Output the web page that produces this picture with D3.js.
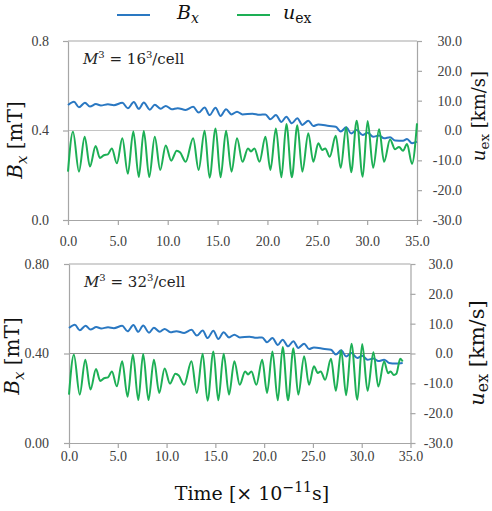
<html>
<script src="https://cdn.jsdelivr.net/npm/d3@7"></script>
<style>
body {margin:0; background:#fff;}
text {font-family:'DejaVu Serif',serif;}
.axis path, .axis line {stroke:#a6a6a6; stroke-width:1.2;}
</style>
<body>
<svg width=492 height=511></svg>
<script>
// values: [time (1e-11 s), value]
const xTicks = [0, 5, 10, 15, 20, 25, 30, 35];
const bxTicks = [0, 0.4, 0.8];
const uTicks = [-30, -20, -10, 0, 10, 20, 30];

// u_ex extrema (km/s), shared by both panels up to t = 31.2
const uCommon = [[0,-13.8],[0.5,-0.4],[1.1,-13.8],[1.67,-2.1],[2.2,-12.1],[2.77,-5.2],[3.2,-9.2],[3.6,-8.3],[4.0,-8.0],[4.4,-6.0],[4.9,-11.0],[5.45,-2.6],[6.0,-14.5],[6.55,-0.3],[7.1,-15.6],[7.6,-0.2],[8.15,-15.6],[8.7,-2.1],[9.25,-13.2],[9.8,-5.0],[10.35,-10.1],[10.9,-6.8],[11.25,-7.4],[11.8,-10.5],[12.55,-2.6],[13.1,-13.2],[13.7,-0.1],[14.2,-15.8],[14.8,0.7],[15.3,-15.7],[15.85,-0.1],[16.4,-13.8],[16.95,-2.6],[17.5,-10.5],[18.05,-6.0],[18.35,-7.0],[18.7,-6.0],[19.2,-10.5],[19.8,-2.1],[20.3,-13.2],[20.85,0.7],[21.4,-15.7],[21.9,2.2],[22.45,-15.7],[23.0,1.8],[23.5,-13.8],[24.1,-0.9],[24.6,-10.5],[25.1,-4.3],[25.5,-6.5],[25.8,-6.0],[26.25,-8.8],[26.85,-1.8],[27.35,-12.5],[27.9,1.0],[28.4,-14.0],[28.95,3.3],[29.55,-15.5],[30.05,3.2],[30.6,-12.5],[31.2,0.4]];
const uTail16 = [[31.7,-10.5],[32.3,-3.0],[32.8,-6.3],[33.2,-5.5],[33.6,-6.8],[34.0,-4.5],[34.5,-11.2],[35.0,2.4]];
const uTail32 = [[31.7,-11.1],[32.3,-2.7],[32.7,-6.6],[32.95,-6.0],[33.3,-7.2],[33.55,-6.8],[33.95,-1.8],[34.2,-2.7]];

// B_x extrema (mT)
const bxCommon = [[0,0.514],[0.6,0.529],[1.1,0.504],[1.7,0.524],[2.2,0.507],[2.8,0.518],[3.3,0.512],[4.0,0.517],[4.6,0.513],[5.45,0.524],[6.0,0.499],[6.6,0.527],[7.1,0.497],[7.6,0.525],[8.2,0.493],[8.7,0.515],[9.3,0.497],[9.8,0.510],[10.4,0.495],[11.0,0.500],[11.8,0.492],[12.55,0.506],[13.1,0.480],[13.7,0.503],[14.2,0.469],[14.8,0.502],[15.3,0.465],[15.85,0.495],[16.4,0.472],[16.95,0.484],[17.5,0.472],[18.5,0.475],[19.2,0.470],[19.8,0.472],[20.3,0.450],[20.85,0.469],[21.4,0.438],[21.9,0.462],[22.45,0.432],[23.0,0.455],[23.5,0.425],[24.1,0.444],[24.6,0.420],[25.1,0.427],[26.2,0.420],[26.85,0.417],[27.35,0.395],[27.9,0.414],[28.4,0.387],[28.95,0.402],[29.55,0.380],[30.05,0.390],[30.6,0.372],[31.2,0.378]];
const bxTail16 = [[31.7,0.365],[32.3,0.370],[32.8,0.355],[33.6,0.354],[34.0,0.362],[34.5,0.343],[35.0,0.350]];
const bxTail32 = [[31.7,0.366],[32.3,0.372],[32.8,0.358],[33.5,0.355],[34.2,0.358]];

const blue = '#2a78c2', green = '#1daf55';
const tickFont = "'Liberation Serif','Times New Roman',serif";
const svg = d3.select('svg');

const panels = [
  {l:68, r:417, t:41, b:220, fmt:'.1f', grid:'#c4c4c4', m:'16', xPad:11, yPad:14, rX:45,
   bx:bxCommon.concat(bxTail16), u:uCommon.concat(uTail16),
   bT:[22,140,20], uT:[485,116,18]},
  {l:69, r:410.5, t:264, b:443, fmt:'.2f', grid:'#8c8c8c', m:'32', xPad:3, yPad:15, rX:42.5,
   bx:bxCommon.concat(bxTail32), u:uCommon.concat(uTail32),
   bT:[19,356,20], uT:[484,353,21]}
];

panels.forEach(function(p) {
  var x = d3.scaleLinear().domain([0,35]).range([p.l,p.r]);
  var yL = d3.scaleLinear().domain([0,0.8]).range([p.b,p.t]);
  var yR = d3.scaleLinear().domain([-30,30]).range([p.b,p.t]);

  svg.append('line').attr('x1',p.l).attr('x2',p.r).attr('y1',yL(0.4)).attr('y2',yL(0.4))
    .attr('stroke',p.grid).attr('stroke-width',1.2);
  svg.append('line').attr('x1',p.l).attr('x2',p.r).attr('y1',p.t).attr('y2',p.t)
    .attr('stroke','#a6a6a6').attr('stroke-width',1.2);

  var axes = [];
  axes.push(svg.append('g').attr('class','axis').attr('transform','translate(0,'+p.b+')')
    .call(d3.axisBottom(x).tickValues(xTicks).tickSize(5).tickSizeOuter(0)
      .tickPadding(p.xPad).tickFormat(d3.format('.1f'))));
  axes.push(svg.append('g').attr('class','axis').attr('transform','translate('+p.l+',0)')
    .call(d3.axisLeft(yL).tickValues(bxTicks).tickSize(5).tickSizeOuter(0)
      .tickPadding(p.yPad).tickFormat(d3.format(p.fmt))));
  var ra = svg.append('g').attr('class','axis').attr('transform','translate('+p.r+',0)')
    .call(d3.axisRight(yR).tickValues(uTicks).tickSize(5).tickSizeOuter(0)
      .tickFormat(function(d) { return d.toFixed(1); }));
  ra.selectAll('.tick text').attr('text-anchor','end').attr('x',p.rX);
  axes.push(ra);
  axes.forEach(function(g) {
    g.selectAll('text').style('font-family',tickFont).style('font-size','14px').attr('fill','#404040');
  });

  var lineB = d3.line().curve(d3.curveMonotoneX).x(d => x(d[0])).y(d => yL(d[1]));
  var lineU = d3.line().curve(d3.curveMonotoneX).x(d => x(d[0])).y(d => yR(d[1]));
  svg.append('path').datum(p.bx).attr('d',lineB).attr('fill','none')
    .attr('stroke',blue).attr('stroke-width',2);
  svg.append('path').datum(p.u).attr('d',lineU).attr('fill','none')
    .attr('stroke',green).attr('stroke-width',2);

  // M^3 annotation
  var a = svg.append('text').attr('x',p.l+15).attr('y',p.t+23).attr('font-size',15).attr('fill','#222');
  a.append('tspan').attr('font-style','italic').text('M');
  a.append('tspan').attr('font-size',10).attr('dy',-6).text('3');
  a.append('tspan').attr('dy',6).text(' = ' + p.m);
  a.append('tspan').attr('font-size',10).attr('dy',-6).text('3');
  a.append('tspan').attr('dy',6).text('/cell');

  // left title
  var bt = svg.append('text').attr('transform','translate('+p.bT[0]+','+p.bT[1]+') rotate(-90)')
    .attr('text-anchor','middle').attr('font-size',p.bT[2]).attr('fill','#111');
  bt.append('tspan').attr('font-style','italic').text('B');
  bt.append('tspan').attr('font-style','italic').attr('font-size',p.bT[2]*0.75).attr('dy',5).text('x');
  bt.append('tspan').attr('dy',-5).text(' [mT]');

  // right title
  var ut = svg.append('text').attr('transform','translate('+p.uT[0]+','+p.uT[1]+') rotate(-90)')
    .attr('text-anchor','middle').attr('font-size',p.uT[2]).attr('fill','#111');
  ut.append('tspan').attr('font-style','italic').text('u');
  ut.append('tspan').attr('font-size',p.uT[2]*0.75).attr('dy',4).text('ex');
  ut.append('tspan').attr('dy',-4).text(' [km/s]');
});

// x title
var tt = svg.append('text').attr('x',252).attr('y',500).attr('text-anchor','middle')
  .attr('font-size',19).attr('fill','#111');
tt.append('tspan').text('Time [\u00d7 10');
tt.append('tspan').attr('font-size',14).attr('dy',-8).text('\u221211');
tt.append('tspan').attr('dy',8).text('s]');

// legend
svg.append('line').attr('x1',117).attr('x2',150).attr('y1',15).attr('y2',15).attr('stroke',blue).attr('stroke-width',2);
svg.append('line').attr('x1',237).attr('x2',270).attr('y1',15).attr('y2',15).attr('stroke',green).attr('stroke-width',2);
var l1 = svg.append('text').attr('x',177).attr('y',19).attr('font-size',19).attr('fill','#111');
l1.append('tspan').attr('font-style','italic').text('B');
l1.append('tspan').attr('font-style','italic').attr('font-size',14).attr('dy',4).text('x');
var l2 = svg.append('text').attr('x',283).attr('y',19).attr('font-size',19).attr('fill','#111');
l2.append('tspan').attr('font-style','italic').text('u');
l2.append('tspan').attr('font-size',14).attr('dy',4).text('ex');
</script>
</body>
</html>
